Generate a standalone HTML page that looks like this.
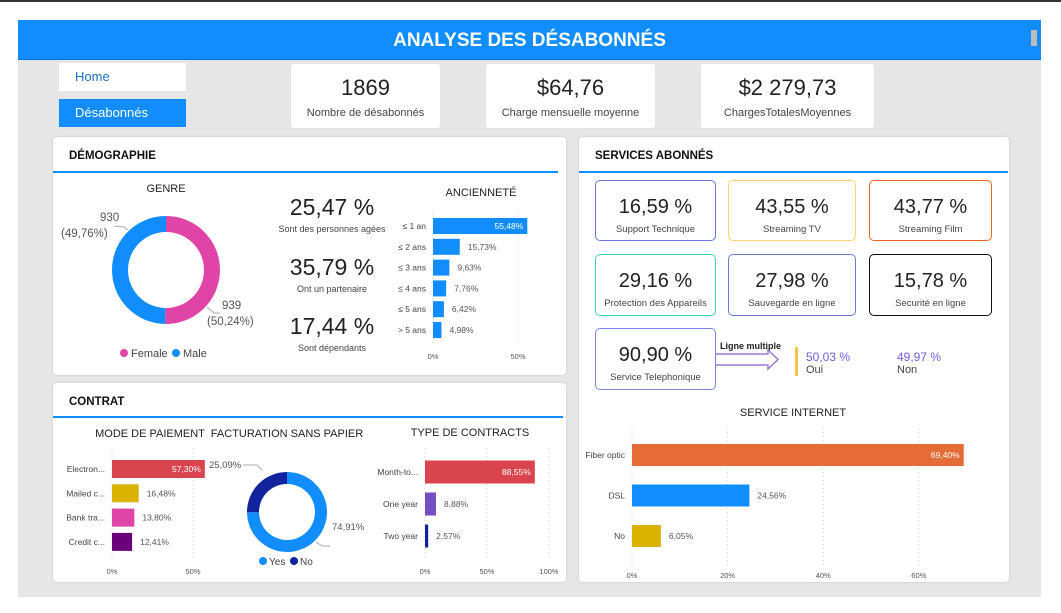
<!DOCTYPE html>
<html><head><meta charset="utf-8">
<style>
*{margin:0;padding:0;box-sizing:border-box}
body{width:1061px;height:613px;background:#fff;font-family:"Liberation Sans",sans-serif;position:relative;overflow:hidden;color:#222}
.abs{position:absolute}
#topline{left:0;top:0;width:1061px;height:2px;background:#333}
#canvas{left:18px;top:20px;width:1023px;height:577px;background:#e6e6e6}
#header{left:18px;top:20px;width:1023px;height:40px;background:#118dff;color:#fff;font-weight:bold;font-size:19px;text-align:center;line-height:42px;border-bottom:1px solid #0b6fd0}
#scroll{left:1031px;top:30px;width:6px;height:16px;background:#bbb}
.btn{width:127px;height:28px;font-size:13px;line-height:28px;padding-left:16px}
.kpi{background:#fff;border-radius:3px;text-align:center}
.kpi .v{font-size:22px;margin-top:11px;color:#222}
.kpi .l{font-size:11px;margin-top:6px;color:#444}
.panel{background:#fff;border-radius:4px;box-shadow:0 0 2px rgba(0,0,0,.15)}
.ptitle{font-weight:bold;font-size:11.5px;color:#111;position:absolute;left:16px;top:13px}
.pline{position:absolute;left:0;height:2px;background:#118dff}
.card{border:1.3px solid;border-radius:5px;text-align:center;background:#fff}
.card .v{font-size:20px;margin-top:15px;color:#222}
.card .l{font-size:9.5px;margin-top:5px;color:#444}
.stat{text-align:center;width:140px}
.stat .v{font-size:23px;color:#222}
.stat .l{font-size:9px;color:#444;margin-top:3px}
svg text{font-family:"Liberation Sans",sans-serif}
</style></head><body>
<div class="abs" id="topline"></div>
<div class="abs" id="canvas"></div>
<div class="abs" id="header">ANALYSE DES DÉSABONNÉS</div>
<div class="abs" id="scroll"></div>

<div class="abs btn" style="left:59px;top:63px;background:#fff;color:#1a6fc9">Home</div>
<div class="abs btn" style="left:59px;top:99px;background:#118dff;color:#fff">Désabonnés</div>

<div class="abs kpi" style="left:291px;top:64px;width:149px;height:64px"><div class="v">1869</div><div class="l">Nombre de désabonnés</div></div>
<div class="abs kpi" style="left:486px;top:64px;width:169px;height:64px"><div class="v">$64,76</div><div class="l">Charge mensuelle moyenne</div></div>
<div class="abs kpi" style="left:701px;top:64px;width:173px;height:64px"><div class="v">$2 279,73</div><div class="l">ChargesTotalesMoyennes</div></div>

<div class="abs panel" style="left:53px;top:137px;width:513px;height:238px">
<div class="ptitle">DÉMOGRAPHIE</div>
<div class="pline" style="top:34px;width:505px"></div>
</div>
<div class="abs panel" style="left:53px;top:383px;width:513px;height:199px">
<div class="ptitle">CONTRAT</div>
<div class="pline" style="top:33px;width:510px"></div>
</div>
<div class="abs panel" style="left:579px;top:137px;width:430px;height:445px">
<div class="ptitle">SERVICES ABONNÉS</div>
<div class="pline" style="top:34px;width:429px"></div>
</div>

<div class="abs stat" style="left:262px;top:194px"><div class="v">25,47 %</div><div class="l">Sont des personnes agées</div></div>
<div class="abs stat" style="left:262px;top:254px"><div class="v">35,79 %</div><div class="l">Ont un partenaire</div></div>
<div class="abs stat" style="left:262px;top:313px"><div class="v">17,44 %</div><div class="l">Sont dépendants</div></div>

<div class="abs card" style="left:595px;top:180px;width:121px;height:61px;border-color:#6c77e0"><div class="v">16,59 %</div><div class="l">Support Technique</div></div>
<div class="abs card" style="left:728px;top:180px;width:128px;height:61px;border-color:#ffd36b"><div class="v">43,55 %</div><div class="l">Streaming TV</div></div>
<div class="abs card" style="left:869px;top:180px;width:123px;height:61px;border-color:#f0641e"><div class="v">43,77 %</div><div class="l">Streaming Film</div></div>
<div class="abs card" style="left:595px;top:254px;width:121px;height:62px;border-color:#3cd6a0"><div class="v">29,16 %</div><div class="l">Protection des Appareils</div></div>
<div class="abs card" style="left:728px;top:254px;width:128px;height:62px;border-color:#6c77e0"><div class="v">27,98 %</div><div class="l">Sauvegarde en ligne</div></div>
<div class="abs card" style="left:869px;top:254px;width:123px;height:62px;border-color:#111"><div class="v">15,78 %</div><div class="l">Securité en ligne</div></div>
<div class="abs card" style="left:595px;top:328px;width:121px;height:62px;border-color:#7f84e8"><div class="v">90,90 %</div><div class="l">Service Telephonique</div></div>

<svg class="abs" style="left:0;top:0" width="1061" height="613" id="charts">
<text x="720" y="349" font-size="9" font-weight="bold" fill="#222">Ligne multiple</text>
<path d="M716,354 H768 V350 L778,359.5 L768,369 V365 H716" fill="#fff" stroke="#9d7ad8" stroke-width="1.5"/>
<rect x="795" y="347" width="3" height="29" fill="#f5c342"/>
<text x="806" y="361" font-size="12" fill="#6b5ce7">50,03 %</text>
<text x="806" y="373" font-size="11" fill="#444">Oui</text>
<text x="897" y="361" font-size="12" fill="#6b5ce7">49,97 %</text>
<text x="897" y="373" font-size="11" fill="#444">Non</text>
</svg>

<script>
// ===== data =====
const genreCats = ["Female","Male"];
const genreCounts = [939, 930];
const genreLabels = ["939","930"];
const genrePcts = ["(50,24%)","(49,76%)"];
const tenureCats = ["≤ 1 an","≤ 2 ans","≤ 3 ans","≤ 4 ans","≤ 5 ans","> 5 ans"];
const tenureVals = [55.48,15.73,9.63,7.76,6.42,4.98];
const tenureTicks = [0,50];
const payCats = ["Electron...","Mailed c...","Bank tra...","Credit c..."];
const payVals = [57.30,16.48,13.80,12.41];
const payTicks = [0,50];
const paperCats = ["Yes","No"];
const paperVals = [74.91,25.09];
const contractCats = ["Month-to...","One year","Two year"];
const contractVals = [88.55,8.88,2.57];
const contractTicks = [0,50,100];
const inetCats = ["Fiber optic","DSL","No"];
const inetVals = [69.40,24.56,6.05];
const inetTicks = [0,20,40,60];

const NS="http://www.w3.org/2000/svg";
const svg=document.getElementById('charts');
function mk(tag,attrs,parent){const e=document.createElementNS(NS,tag);for(const k in attrs)e.setAttribute(k,attrs[k]);(parent||svg).appendChild(e);return e;}
function txt(x,y,s,size,fill,anchor,weight){const t=mk('text',{x:x,y:y,'font-size':size,fill:fill,'text-anchor':anchor||'start','font-weight':weight||'normal'});t.textContent=s;return t;}
function fmt(v){return v.toFixed(2).replace('.',',')+'%';}

function hbar(o){
  const xs=v=>o.x0+v*o.ppp;
  const ys=i=>o.y0+i*o.step;
  o.ticks.forEach(t=>{
    const g=mk('line',{x1:xs(t),x2:xs(t),y1:o.gy1,y2:o.gy2,stroke:'#ccc','stroke-dasharray':'1,3'});
    
    
    const tl=txt(xs(t),o.ty,t+'%',o.fs-1,'#555','middle');
    
    
  });
  o.cats.forEach((c,i)=>{
    const v=o.vals[i],cy=ys(i);
    const r=mk('rect',{x:o.x0,y:cy-o.bh/2,width:Math.max(1,v*o.ppp),height:o.bh,fill:o.colors[i%o.colors.length]});
    
    
    const cl=txt(o.x0-7,cy+3,c,o.fs,'#444','end');
    
    
    const inside=v*o.ppp>o.inside;
    const vl=txt(inside?xs(v)-4:xs(v)+8,cy+3,fmt(v),o.fs,inside?'#fff':'#555',inside?'end':'start');
    
    
  });
  const tt=txt(o.tx,o.tyTitle,o.title,11,'#222','middle');
  
  
}

function donut(o){
  const total=o.vals.reduce((a,b)=>a+b,0);
  let a=0;
  o.vals.forEach((v,i)=>{
    const a0=a, a1=a+v/total*2*Math.PI; a=a1;
    const p=(ang,r)=>[o.cx+r*Math.sin(ang),o.cy-r*Math.cos(ang)];
    const [x0,y0]=p(a0,o.R),[x1,y1]=p(a1,o.R),[x2,y2]=p(a1,o.r),[x3,y3]=p(a0,o.r);
    const lg=(a1-a0)>Math.PI?1:0;
    const s=mk('path',{d:`M${x0},${y0} A${o.R},${o.R} 0 ${lg} 1 ${x1},${y1} L${x2},${y2} A${o.r},${o.r} 0 ${lg} 0 ${x3},${y3}Z`,fill:o.colors[i]});
    
    
  });
}

// Genre
const gt=txt(166,192,'GENRE',11,'#222','middle');


donut({cx:166,cy:270,R:54,r:38,vals:genreCounts,colors:['#e044a7','#118dff'],name:'genre'});
mk('polyline',{points:'114,226 124,227 128,230',fill:'none',stroke:'#aaa'});
mk('polyline',{points:'207,307 214,313 220,313',fill:'none',stroke:'#aaa'});
[[genreLabels[1],100,221,'start'],[genrePcts[1],61,237,'start'],[genreLabels[0],222,309,'start'],[genrePcts[0],207,325,'start']].forEach(d=>{
  const t=txt(d[1],d[2],d[0],11.5,'#555',d[3]);
  
  
});
[[124,'#e044a7',genreCats[0]],[176,'#118dff',genreCats[1]]].forEach(d=>{
  const c=mk('circle',{cx:d[0],cy:353,r:4,fill:d[1]});
  
  
  const t=txt(d[0]+7,357,d[2],11,'#444');
  
  
});

hbar({name:'tenure',cats:tenureCats,vals:tenureVals,ticks:tenureTicks,x0:433,ppp:1.7,y0:226,step:20.8,bh:16,colors:['#118dff'],fs:8.5,gy1:210,gy2:345,ty:359,inside:60,title:'ANCIENNETÉ',tx:481,tyTitle:196});
hbar({name:'payment',cats:payCats,vals:payVals,ticks:payTicks,x0:112,ppp:1.62,y0:469,step:24.3,bh:18,colors:['#d9444f','#d9b300','#e044a7','#6b007b'],fs:8.5,gy1:448,gy2:560,ty:574,inside:60,title:'MODE DE PAIEMENT',tx:150,tyTitle:437});
hbar({name:'contract',cats:contractCats,vals:contractVals,ticks:contractTicks,x0:425,ppp:1.24,y0:472,step:32,bh:23,colors:['#d9444f','#744ec2','#12239e'],fs:8.5,gy1:448,gy2:560,ty:574,inside:60,title:'TYPE DE CONTRACTS',tx:470,tyTitle:436});
hbar({name:'internet',cats:inetCats,vals:inetVals,ticks:inetTicks,x0:632,ppp:4.78,y0:455,step:40.5,bh:22,colors:['#e66c37','#118dff','#d9b300'],fs:8.5,gy1:428,gy2:565,ty:578,inside:200,title:'SERVICE INTERNET',tx:793,tyTitle:416});

// Paperless
const pt=txt(287,437,'FACTURATION SANS PAPIER',11,'#222','middle');


donut({cx:287,cy:512,R:40,r:28,vals:paperVals,colors:['#118dff','#12239e'],name:'paperless'});
mk('polyline',{points:'243,465 257,465 262,470',fill:'none',stroke:'#aaa'});
mk('polyline',{points:'316,542 322,546 330,546',fill:'none',stroke:'#aaa'});
[[fmt(paperVals[1]),209,468],[fmt(paperVals[0]),332,530]].forEach(d=>{
  const t=txt(d[1],d[2],d[0],9.5,'#555');
  
  
});
[[263,'#118dff',paperCats[0]],[294,'#12239e',paperCats[1]]].forEach(d=>{
  const c=mk('circle',{cx:d[0],cy:561,r:4,fill:d[1]});
  
  
  const t=txt(d[0]+6,565,d[2],10,'#444');
  
  
});
</script>
</body></html>
